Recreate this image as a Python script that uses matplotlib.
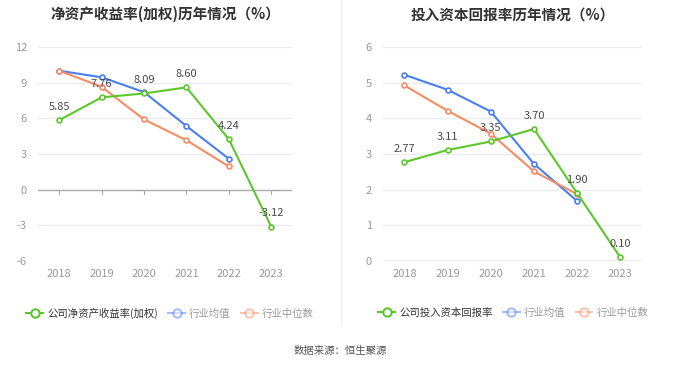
import matplotlib
matplotlib.use('Agg')
from matplotlib import pyplot as plt
from matplotlib.lines import Line2D

plt.rcParams['font.family'] = ['Noto Sans CJK SC', 'DejaVu Sans']

years = ['2018', '2019', '2020', '2021', '2022', '2023']

# 净资产收益率(加权)
roe_company = [5.85, 7.76, 8.09, 8.60, 4.24, -3.12]
roe_avg = [10.0, 9.45, 8.2, 5.35, 2.6]
roe_median = [10.0, 8.65, 5.9, 4.15, 1.95]

# 投入资本回报率
roic_company = [2.77, 3.11, 3.35, 3.70, 1.90, 0.10]
roic_avg = [5.22, 4.8, 4.19, 2.72, 1.68]
roic_median = [4.92, 4.21, 3.57, 2.51, 1.87]

green = '#5cc72b'
blue = '#4a7ff0'
orange = '#f78b62'
grid_c = '#e8ebf3'
tick_c = '#999999'


def draw_panel(ax, company, avg, median, ticks, title):
    x = range(len(years))
    for t in ticks:
        ax.axhline(t, color=grid_c, lw=0.8, zorder=0)
    ax.axhline(0, color='#aaaaaa', lw=1.0, zorder=1)
    ax.plot(range(len(avg)), avg, color=blue, lw=1.5, marker='o', ms=3.5,
            mfc='white', mew=1.2, zorder=3)
    ax.plot(range(len(median)), median, color=orange, lw=1.5, marker='o', ms=3.5,
            mfc='white', mew=1.2, zorder=3)
    ax.plot(x, company, color=green, lw=1.5, marker='o', ms=3.5,
            mfc='white', mew=1.2, zorder=4)
    for i, v in enumerate(company):
        ax.annotate('%.2f' % v, (i, v), xytext=(0, 6), textcoords='offset points',
                    ha='center', va='bottom', fontsize=8, color='#4a4a4a', zorder=5)
    ax.set_xlim(-0.5, len(years) - 0.5)
    ax.set_ylim(ticks[0], ticks[-1])
    ax.set_yticks(ticks)
    ax.set_yticklabels([str(t) for t in ticks])
    ax.set_xticks(list(x))
    ax.set_xticklabels(years)
    for s in ax.spines.values():
        s.set_visible(False)
    ax.tick_params(axis='y', length=0, colors=tick_c, labelsize=8, pad=8)
    ax.tick_params(axis='x', length=0, colors=tick_c, labelsize=8, pad=6)
    ax.set_title(title, fontsize=10.5, fontweight='bold', color='#333333', pad=20)


fig = plt.figure(figsize=(6.8, 3.67), dpi=100)

ax1 = fig.add_axes([0.056, 0.289, 0.374, 0.583])
draw_panel(ax1, roe_company, roe_avg, roe_median, [-6, -3, 0, 3, 6, 9, 12],
           '净资产收益率(加权)历年情况（%）')
# tick marks under the zero line
for i in range(len(years)):
    ax1.plot([i, i], [0, -0.35], color='#aaaaaa', lw=0.8, zorder=1)
ax1.set_ylim(-6, 12)

ax2 = fig.add_axes([0.563, 0.289, 0.381, 0.583])
draw_panel(ax2, roic_company, roic_avg, roic_median, [0, 1, 2, 3, 4, 5, 6],
           '投入资本回报率历年情况（%）')

# separator
fig.add_artist(Line2D([0.5015, 0.5015], [0.115, 1.0], color='#eeeeee', lw=0.8))


def legend_for(name, x_anchor):
    handles = [
        Line2D([], [], color=green, lw=1.5, marker='o', ms=6, mfc='white', mew=1.5),
        Line2D([], [], color=blue, lw=1.5, marker='o', ms=6, mfc='white', mew=1.5, alpha=0.5),
        Line2D([], [], color=orange, lw=1.5, marker='o', ms=6, mfc='white', mew=1.5, alpha=0.5),
    ]
    leg = fig.legend(handles, [name, '行业均值', '行业中位数'], loc='center',
                     bbox_to_anchor=(x_anchor, 0.147), ncol=3, frameon=False,
                     fontsize=7.5, handlelength=1.6, handletextpad=0.4,
                     columnspacing=1.0)
    texts = leg.get_texts()
    texts[0].set_color('#333333')
    texts[1].set_color('#999999')
    texts[2].set_color('#999999')


legend_for('公司净资产收益率(加权)', 0.25)
legend_for('公司投入资本回报率', 0.755)

fig.text(0.5, 0.043, '数据来源：恒生聚源', ha='center', va='center',
         fontsize=7.5, color='#555555')

fig.savefig('out.png', dpi=100, facecolor='white')
